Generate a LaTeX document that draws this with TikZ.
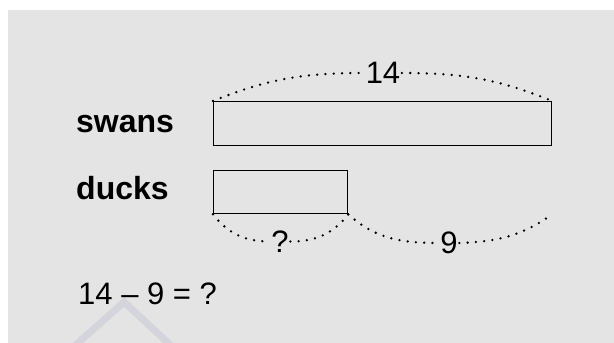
\documentclass[tikz,border=0pt]{standalone}
\usepackage{fontspec}
\setmainfont{Liberation Sans}
\definecolor{bggray}{HTML}{E4E4E4}
\definecolor{wmark}{HTML}{D4D4DD}
\tikzset{
  lbl/.style={font=\fontsize{32}{36}\selectfont\bfseries, inner sep=0pt, anchor=base west},
  num/.style={font=\fontsize{31}{36}\selectfont, inner sep=1.5pt, text depth=0pt},
  bar/.style={draw=black, line width=1.3pt, inner sep=0pt, anchor=north west},
  dotline/.style={line width=2.6pt, line cap=round, dash pattern=on 0pt off 8.3pt}
}
\begin{document}
\begin{tikzpicture}[x=1pt,y=1pt]
\useasboundingbox (0,0) rectangle (614,343);
\begin{scope}
\clip (0,0) rectangle (614,343);
\fill[bggray] (8,0) rectangle (614,333);
\draw[wmark, line width=7pt, line join=miter] (73.5,-4) -- (124,41) -- (172.5,-4);
\end{scope}
% labels
\node[lbl] (swans) at (76,210) {swans};
\node[lbl] (ducks) at (76,143) {ducks};
% bars
\node[bar, minimum width=338pt, minimum height=44pt] (swanbox) at (213,242) {};
\node[bar, minimum width=134pt, minimum height=43pt] (duckbox) at (213,173) {};
% number labels
\node[num] (top14) at (383,270) {14};
\node[num] (q) at (280,101.5) {?};
\node[num] (nine) at (449,100) {9};
\coordinate (rend) at (swanbox.east |- duckbox.south);
% dotted arcs
\draw[dotline] (swanbox.north west) to[out=22,in=180] (top14.west);
\draw[dotline] (top14.east) to[out=0,in=158] (swanbox.north east);
\draw[dotline] (duckbox.south west) to[out=-52,in=180] (q.west);
\draw[dotline] (q.east) to[out=0,in=232] (duckbox.south east);
\draw[dotline] (duckbox.south east) to[out=-42,in=180] (nine.west);
\draw[dotline] (nine.east) to[out=2,in=215] (rend);
% equation
\node[font=\fontsize{31}{36}\selectfont, inner sep=0pt, anchor=base west] (eq) at (78,38) {14 -- 9 = ?};
\end{tikzpicture}
\end{document}
